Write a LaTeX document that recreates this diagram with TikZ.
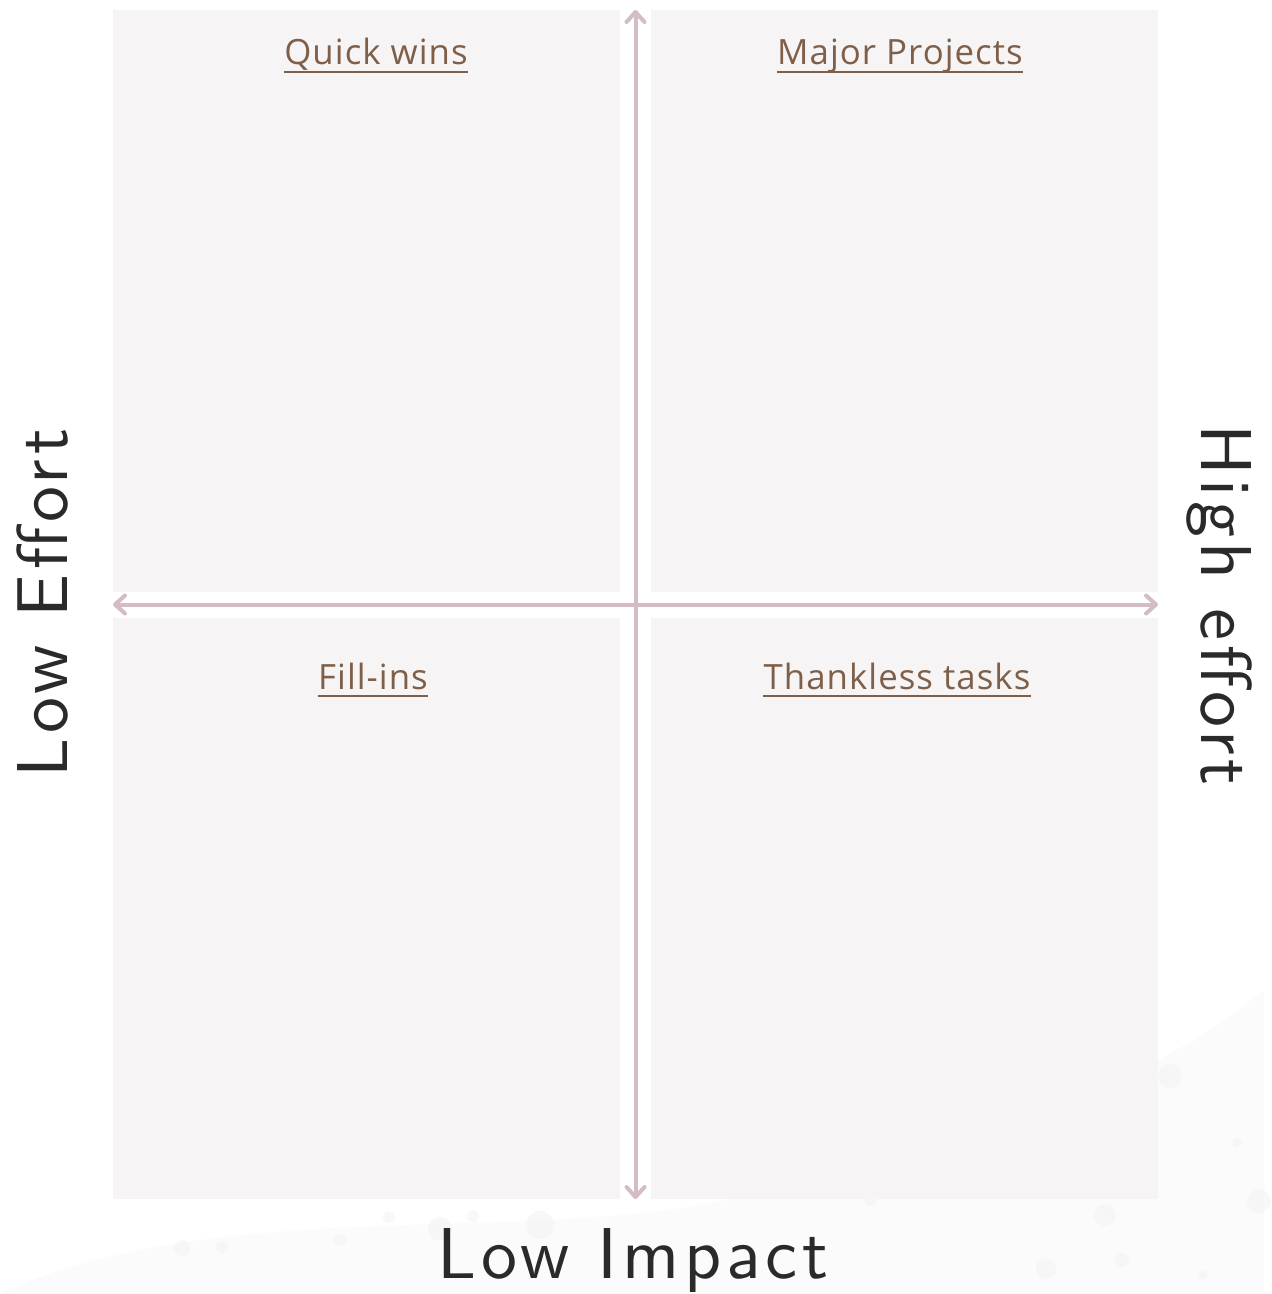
\documentclass[tikz,border=0pt]{standalone}
\usepackage{fontspec}
\setmainfont{Lato}
\newfontfamily\titlefont[LetterSpace=3]{Open Sans}
\newfontfamily\axisfont[LetterSpace=6.5]{lmsans10-regular.otf}
\usetikzlibrary{arrows.meta}

\definecolor{quadfill}{HTML}{F6F4F5}
\definecolor{axiscol}{HTML}{D4BCC5}
\definecolor{titlecol}{HTML}{7F5F48}
\definecolor{inkcol}{HTML}{2B2A28}

\begin{document}
\begin{tikzpicture}[
    x=0.5pt, y=-0.5pt,
    quad/.style={fill=quadfill, draw=none},
    axis/.style={draw=axiscol, line width=2pt, {Straight Barb[length=5pt, width=9pt, round]}-{Straight Barb[length=5pt, width=9pt, round]}},
    qtitle/.style={inner sep=0pt, anchor=base, text=titlecol, font=\titlefont\fontsize{17.4}{19}\selectfont},
    uline/.style={draw=titlecol, line width=1pt},
    axlabel/.style={inner sep=0pt, anchor=base, text=inkcol, font=\axisfont\fontsize{36}{40}\selectfont},
    bubble/.style={fill=black!5, opacity=0.5}
]

% page background and size
\fill[white] (0,0) rectangle (1264,1294);

% faint wash along the bottom
\fill[black!1.5] (0,1294) .. controls (200,1200) and (500,1240) .. (700,1205)
    .. controls (900,1170) and (1100,1120) .. (1264,990) -- (1264,1294) -- cycle;
\foreach \cx/\cy/\r in {1170/1076/12, 1237/1142/5, 1259/1201/12, 1105/1215/11,
    1046/1269/10, 1122/1260/7, 1203/1275/5, 182/1248/8, 222/1247/6,
    340/1240/6, 389/1217/6, 440/1229/12, 540/1225/14, 473/1216/6, 870/1200/6} {
    \fill[bubble] (\cx,\cy) circle (\r);
}

% 1. quadrants
\fill[quad] (113,10) rectangle (620,592) coordinate (tl);
\fill[quad] (651,10) rectangle (1158,592) coordinate (tr);
\fill[quad] (113,618) rectangle (620,1199) coordinate (bl);
\fill[quad] (651,618) rectangle (1158,1199) coordinate (br);

% 2. axes
\coordinate (ytop) at (635.5,10);
\coordinate (ybot) at (635.5,1199);
\coordinate (xleft) at (113,604.5);
\coordinate (xright) at (1158,604.5);
\draw[axis] (ytop) -- (ybot);
\draw[axis] (xleft) -- (xright);

% 3. quadrant titles
\node[qtitle] (quick) at (376,65) {Quick wins};
\node[qtitle] (major) at (900,65) {Major Projects};
\node[qtitle] (fill) at (373,689) {Fill-ins};
\node[qtitle] (thank) at (897,689) {Thankless tasks};
\foreach \n in {quick, major, fill, thank} {
    \draw[uline] ([yshift=-3.3pt]\n.base west) -- ([yshift=-3.3pt]\n.base east);
}

% 4. axis labels
\node[axlabel] (impact) at (633,1278) {Low Impact};
\node[axlabel, rotate=90] (loweff) at (67,603) {Low Effort};
\node[axlabel, rotate=-90] (higheff) at (1201,605) {High effort};

\end{tikzpicture}
\end{document}
